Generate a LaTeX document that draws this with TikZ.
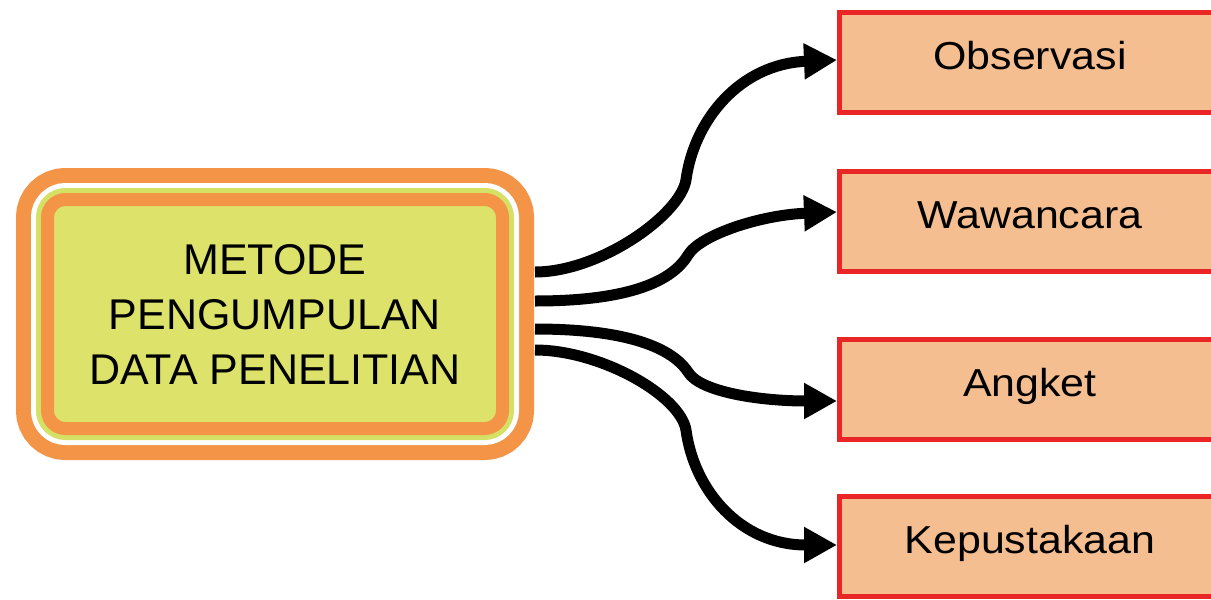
\documentclass[tikz,border=0pt]{standalone}
\usepackage{fontspec}
\setmainfont{Liberation Sans}
\newfontfamily\rfont[FakeStretch=1.1]{Liberation Sans}
\usetikzlibrary{arrows.meta}
\definecolor{borange}{RGB}{243,148,70}
\definecolor{yfill}{RGB}{221,227,106}
\definecolor{ygreen}{RGB}{212,225,100}
\definecolor{boxpeach}{RGB}{245,190,145}
\definecolor{boxred}{RGB}{234,37,37}
\tikzset{
  srcbox/.style={rectangle, rounded corners=18pt, minimum width=455pt, minimum height=229pt,
    inner sep=0pt, outer sep=32.5pt, fill=yfill, draw=borange, line width=13pt,
    align=center, font=\fontsize{43}{55}\selectfont,
    preaction={draw=borange, line width=63pt},
    preaction={draw=white, line width=33pt},
    preaction={draw=ygreen, line width=23pt}},
  rbox/.style={rectangle, draw=boxred, fill=boxpeach, line width=5pt,
    minimum width=381pt, minimum height=100pt, inner sep=0pt,
    font=\rfont\fontsize{39}{39}\selectfont, text height=28pt, text depth=15pt},
  conn/.style={line width=11pt, -{Triangle[length=33pt,width=34pt]}}
}
\begin{document}
\begin{tikzpicture}[x=1pt,y=-1pt]
\path[use as bounding box] (0,0) rectangle (1211,600);
\clip (0,0) rectangle (1211,600);
\fill[white] (0,0) rectangle (1211,600);

\node[srcbox] (src) at (275,314) {METODE\\PENGUMPULAN\\DATA PENELITIAN};

\node[rbox] (obs) at (1030,62.5) {Observasi};
\node[rbox] (waw) at (1030,221.5) {Wawancara};
\node[rbox] (ang) at (1030,389.5) {Angket};
\node[rbox] (kep) at (1030,546.5) {Kepustakaan};

\draw[conn] (src.east |- 0,272) .. controls (600,272) and (680,215) .. (686,180)
   .. controls (694,120) and (740,64) .. (obs.west |- 0,60);
\draw[conn] (src.east |- 0,301) .. controls (620,301) and (670,285) .. (688,255)
   .. controls (700,235) and (760,215) .. (waw.west |- 0,212);
\draw[conn] (src.east |- 0,329) .. controls (620,329) and (670,345) .. (688,372)
   .. controls (700,392) and (760,401) .. (ang.west |- 0,401);
\draw[conn] (src.east |- 0,350) .. controls (600,350) and (680,395) .. (686,430)
   .. controls (694,490) and (740,545) .. (kep.west |- 0,545);
\end{tikzpicture}
\end{document}
